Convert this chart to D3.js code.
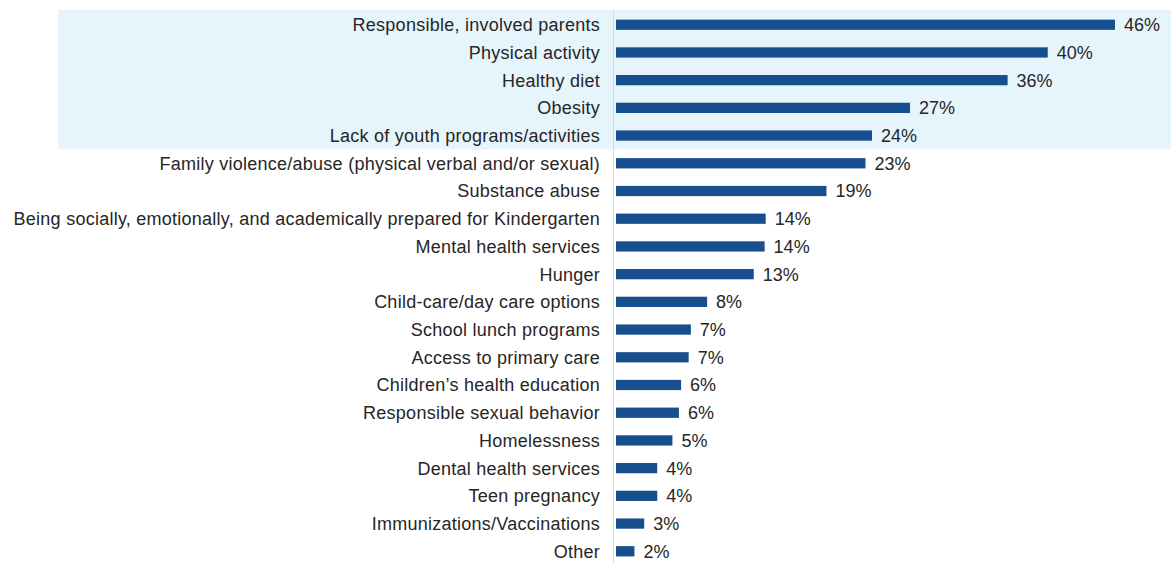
<!DOCTYPE html>
<html><head><meta charset="utf-8">
<script src="https://cdn.jsdelivr.net/npm/d3@7/dist/d3.min.js"></script>
<style>body{margin:0;background:#fff;}svg{display:block;}</style>
</head><body>
<svg id="c" width="1171" height="563"></svg>
<script>
const categories = [
  "Responsible, involved parents",
  "Physical activity",
  "Healthy diet",
  "Obesity",
  "Lack of youth programs/activities",
  "Family violence/abuse (physical verbal and/or sexual)",
  "Substance abuse",
  "Being socially, emotionally, and academically prepared for Kindergarten",
  "Mental health services",
  "Hunger",
  "Child-care/day care options",
  "School lunch programs",
  "Access to primary care",
  "Children\u2019s health education",
  "Responsible sexual behavior",
  "Homelessness",
  "Dental health services",
  "Teen pregnancy",
  "Immunizations/Vaccinations",
  "Other"
];
// bar lengths (percent)
const values = [46, 39.8, 36.1, 27.1, 23.6, 23.0, 19.4, 13.8, 13.7, 12.7, 8.4, 6.9, 6.7, 6.0, 5.8, 5.2, 3.8, 3.8, 2.6, 1.7];
// printed data labels
const valueLabels = ["46%", "40%", "36%", "27%", "24%", "23%", "19%", "14%", "14%", "13%", "8%", "7%", "7%", "6%", "6%", "5%", "4%", "4%", "3%", "2%"];
const highlighted = categories.slice(0, 5);

const svg = d3.select("#c");
const x0 = 616;
const x = d3.scaleLinear().domain([0, 46]).range([x0, 1115]);
const y = d3.scaleBand().domain(categories).range([11, 565]).paddingInner(0.63).paddingOuter(0.31);

const font = "Liberation Sans, Arial, Helvetica, sans-serif";
const hb = y.step();
svg.append("rect")
  .attr("x", 58).attr("width", 1171 - 58)
  .attr("y", 10)
  .attr("height", y(highlighted[highlighted.length-1]) + y.bandwidth()/2 + hb/2 - 10)
  .attr("fill", "#e6f5fc");

svg.append("line").attr("x1", x0 - 2.5).attr("x2", x0 - 2.5)
  .attr("y1", 10).attr("y2", 563).attr("stroke", "#d9d9d9").attr("stroke-width", 1);

svg.append("g").selectAll("rect").data(values).join("rect")
  .attr("x", x(0))
  .attr("y", (d, i) => y(categories[i]))
  .attr("width", d => x(d) - x(0))
  .attr("height", y.bandwidth())
  .attr("fill", "#174e8e");

svg.append("g").selectAll("text").data(categories).join("text")
  .attr("x", 600)
  .attr("y", d => y(d) + y.bandwidth()/2)
  .attr("dy", "0.36em")
  .attr("text-anchor", "end")
  .attr("font-family", font)
  .attr("font-size", 18)
  .attr("letter-spacing", "0.25px")
  .attr("fill", "#262626")
  .text(d => d);

svg.append("g").selectAll("text").data(values).join("text")
  .attr("x", d => x(d) + 9)
  .attr("y", (d, i) => y(categories[i]) + y.bandwidth()/2)
  .attr("dy", "0.36em")
  .attr("font-family", font)
  .attr("font-size", 18)
  .attr("fill", "#262626")
  .text((d, i) => valueLabels[i]);
</script>
</body></html>
